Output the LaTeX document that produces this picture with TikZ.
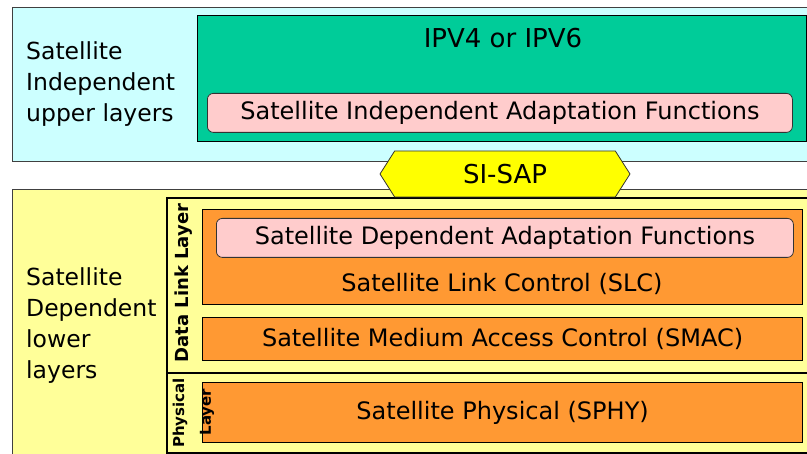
\documentclass[tikz,border=0pt]{standalone}
\usepackage{fontspec}
\setmainfont{DejaVu Sans}
\usetikzlibrary{shapes.symbols}
\definecolor{upperbg}{HTML}{CCFFFF}
\definecolor{lowerbg}{HTML}{FFFF99}
\definecolor{ipgreen}{HTML}{00CC99}
\definecolor{adapt}{HTML}{FFCCCC}
\definecolor{layer}{HTML}{FF9933}
\definecolor{sap}{HTML}{FFFF00}
\tikzset{
  x=1pt, y=-1pt,
  zone/.style={draw=black!75, line width=0.8pt, anchor=north west, inner sep=0pt},
  frame/.style={draw=black, line width=1.6pt, fill=lowerbg, anchor=north west, inner sep=0pt},
  block/.style={draw=black, line width=1.2pt, fill=layer, anchor=north west, inner sep=0pt},
  adaptbox/.style={draw=black!80, line width=0.8pt, fill=adapt, rounded corners=6pt, anchor=north west, inner sep=0pt},
  txt/.style={font=\fontsize{24}{28}\selectfont, inner sep=0pt},
  bigtxt/.style={font=\fontsize{26}{30}\selectfont, inner sep=0pt},
  sidetxt/.style={font=\fontsize{23.5}{31}\selectfont, align=left, anchor=west, inner sep=0pt},
  vtxt/.style={font=\bfseries\fontsize{15}{18}\selectfont, rotate=90, inner sep=0pt},
}
\begin{document}
\begin{tikzpicture}
\useasboundingbox (0,0) rectangle (807,454);
\clip (0,0) rectangle (807,454);
% upper, satellite independent part
\node[zone, fill=upperbg, minimum width=830pt, minimum height=154pt] (upper) at (12,7) {};
\node[draw=black, line width=1.2pt, fill=ipgreen, anchor=north west, inner sep=0pt,
      minimum width=609pt, minimum height=126pt] (ip) at (197,15) {};
\node[adaptbox, minimum width=585pt, minimum height=39pt] (siaf) at (207,93) {};
\node[bigtxt] (iptxt) at (503,38) {IPV4 or IPV6};
\node[txt] (siaftxt) at (siaf.center) {Satellite Independent Adaptation Functions};
\node[sidetxt] (uppertxt) at (26,84) {Satellite\\Independent\\upper layers};
% lower, satellite dependent part
\node[zone, fill=lowerbg, minimum width=830pt, minimum height=280pt] (lower) at (12,189) {};
\node[frame, minimum width=680pt, minimum height=175pt] (dll) at (166,197) {};
\node[frame, minimum width=680pt, minimum height=80pt] (phy) at (166,372) {};
\node[block, minimum width=600pt, minimum height=95pt] (slc) at (202,209) {};
\node[adaptbox, minimum width=577pt, minimum height=39pt] (sdaf) at (216,218) {};
\node[txt] (sdaftxt) at (sdaf.center) {Satellite Dependent Adaptation Functions};
\node[txt] (slctxt) at (502,284) {Satellite Link Control (SLC)};
\node[block, minimum width=600pt, minimum height=43pt] (smac) at (202,317) {};
\node[txt] (smactxt) at (smac.center) {Satellite Medium Access Control (SMAC)};
\node[block, minimum width=600pt, minimum height=60pt] (sphy) at (202,382) {};
\node[txt] (sphytxt) at (sphy.center) {Satellite Physical (SPHY)};
\node[sidetxt] (lowertxt) at (26,326) {Satellite\\Dependent\\lower\\layers};
\node[vtxt, font=\bfseries\fontsize{18}{21}\selectfont] (dlltxt) at (184,283) {Data Link Layer};
\node[vtxt] (phytxt1) at (180,413) {Physical};
\node[vtxt] (phytxt2) at (207,412) {Layer};
% service access point between the two parts
\node[signal, signal to=west and east, signal pointer angle=115, draw=black!80,
      line width=0.8pt, fill=sap, minimum width=250pt, minimum height=46pt,
      inner sep=0pt, font=\fontsize{26}{30}\selectfont] (sisap) at (505,174) {SI-SAP};
\end{tikzpicture}
\end{document}
